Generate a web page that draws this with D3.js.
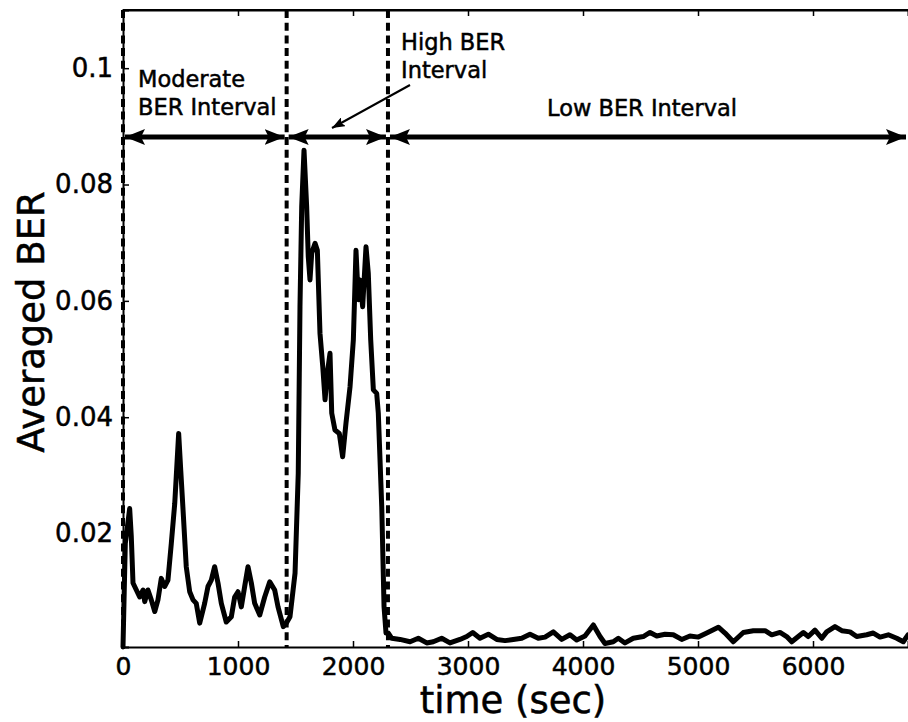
<!DOCTYPE html>
<html>
<head>
<meta charset="utf-8">
<script src="https://cdn.jsdelivr.net/npm/d3@7"></script>
<style>
  html, body { margin: 0; padding: 0; background: #fff; }
  svg { display: block; }
  text { font-family: "DejaVu Sans", Arial, sans-serif; fill: #000; stroke: #000; stroke-width: 0.5px; }
</style>
</head>
<body>
<svg id="chart" width="908" height="722"></svg>
<script>
// ---- data ----
const timeSec = [0,20,58,72,87,116,145,174,189,217,246,276,304,333,363,391,420,450,463,484,502,522,550,580,609,637,667,710,739,768,797,826,855,898,942,971,1000,1029,1058,1087,1116,1145,1189,1232,1276,1319,1348,1394,1420,1452,1496,1524,1539,1554,1574,1597,1611,1626,1641,1670,1690,1713,1737,1757,1777,1800,1815,1843,1881,1910,1939,1974,2003,2026,2046,2061,2084,2113,2133,2154,2177,2206,2220,2250,2270,2287,2307,2337,2409,2496,2568,2641,2698,2771,2843,2930,2989,3041,3104,3177,3250,3322,3394,3467,3539,3611,3670,3742,3815,3887,3945,4017,4090,4148,4191,4263,4307,4365,4437,4524,4583,4641,4713,4785,4858,4930,5003,5076,5177,5235,5307,5394,5481,5583,5641,5713,5771,5815,5872,5916,5959,6017,6076,6119,6191,6250,6322,6380,6467,6524,6583,6655,6728,6785,6826];
const avgBER = [0.0005,0.0183,0.0243,0.0195,0.0115,0.0103,0.0091,0.0103,0.0083,0.0103,0.0086,0.0066,0.0086,0.0123,0.0109,0.0120,0.0183,0.0252,0.0298,0.0372,0.0309,0.0241,0.0143,0.0100,0.0086,0.0080,0.0046,0.0080,0.0109,0.0120,0.0143,0.0115,0.0080,0.0048,0.0057,0.0091,0.0100,0.0074,0.0109,0.0143,0.0115,0.0080,0.0060,0.0091,0.0117,0.0103,0.0074,0.0040,0.0046,0.0057,0.0132,0.0304,0.0590,0.0762,0.0859,0.0762,0.0676,0.0636,0.0682,0.0699,0.0687,0.0544,0.0487,0.0430,0.0476,0.0510,0.0407,0.0378,0.0372,0.0332,0.0390,0.0452,0.0533,0.0687,0.0602,0.0636,0.0590,0.0693,0.0647,0.0533,0.0447,0.0441,0.0407,0.0246,0.0074,0.0029,0.0029,0.0020,0.0018,0.0014,0.0020,0.0012,0.0014,0.0020,0.0012,0.0018,0.0023,0.0030,0.0020,0.0027,0.0018,0.0016,0.0018,0.0020,0.0027,0.0020,0.0022,0.0031,0.0018,0.0026,0.0017,0.0024,0.0043,0.0023,0.0011,0.0014,0.0020,0.0012,0.0020,0.0023,0.0030,0.0024,0.0027,0.0026,0.0018,0.0024,0.0022,0.0029,0.0039,0.0029,0.0014,0.0030,0.0033,0.0033,0.0026,0.0030,0.0023,0.0014,0.0023,0.0030,0.0023,0.0034,0.0020,0.0031,0.0040,0.0033,0.0031,0.0023,0.0026,0.0029,0.0022,0.0026,0.0020,0.0014,0.0026];
const xTicks = [0,1000,2000,3000,4000,5000,6000];
const yTicks = [0.02,0.04,0.06,0.08,0.1];
const yTickLabels = ["0.02","0.04","0.06","0.08","0.1"];
const boundaries = [0,1423,2304];           // interval boundaries (sec)
const intervals = [
  {name:"Moderate", from:0, to:1423},
  {name:"High", from:1423, to:2304},
  {name:"Low", from:2304, to:6826}
];
const xDomain = [0, 6826];
const yDomain = [0.0005, 0.11];

// ---- layout ----
const svg = d3.select("#chart");
const L = 123, R = 908, T = 10, B = 647;
const x = d3.scaleLinear().domain(xDomain).range([L, R]);
const y = d3.scaleLinear().domain(yDomain).range([B, T]);

// top frame line
svg.append("line").attr("x1",L).attr("x2",R+2).attr("y1",T).attr("y2",T)
  .attr("stroke","#000").attr("stroke-width",2);

// axes with inward ticks
const xAxis = svg.append("g").attr("transform",`translate(0,${B})`)
  .call(d3.axisBottom(x).tickValues(xTicks).tickSize(-6).tickPadding(10).tickFormat(d3.format("d")));
const xAxisTop = svg.append("g").attr("transform",`translate(0,${T})`)
  .call(d3.axisTop(x).tickValues(xTicks).tickSize(-6).tickFormat(""));
const yAxis = svg.append("g").attr("transform",`translate(${L},0)`)
  .call(d3.axisLeft(y).tickValues(yTicks).tickSize(-6).tickPadding(10).tickFormat((d,i)=>yTickLabels[i]));
[xAxis, xAxisTop, yAxis].forEach(g=>{
  g.select(".domain").attr("stroke","#000").attr("stroke-width",2);
  g.selectAll(".tick line").attr("stroke","#000").attr("stroke-width",1.5);
  g.selectAll(".tick text").style("font-family","'DejaVu Sans', Arial, sans-serif")
    .attr("fill","#000").attr("stroke","#000").attr("stroke-width",0.5);
});
yAxis.selectAll(".tick text").style("font-size","26px");
xAxis.selectAll(".tick text").style("font-size","25px").attr("dy","0.71em");

// data line
const line = d3.line().x((d,i)=>x(timeSec[i])).y(d=>y(d)).curve(d3.curveLinear);
svg.append("path").datum(avgBER).attr("d",line)
  .attr("fill","none").attr("stroke","#000").attr("stroke-width",5)
  .attr("stroke-linejoin","round").attr("stroke-linecap","round");

// dashed interval boundaries
svg.selectAll("line.bound").data(boundaries).enter().append("line")
  .attr("class","bound")
  .attr("x1",d=>x(d)).attr("x2",d=>x(d)).attr("y1",T).attr("y2",B)
  .attr("stroke","#000").attr("stroke-width",4).attr("stroke-dasharray","8,4.7");

// arrow markers
const defs = svg.append("defs");
function headMarker(id, orient, w, h) {
  defs.append("marker").attr("id",id).attr("viewBox",`0 0 ${w} ${h}`)
    .attr("refX",w).attr("refY",h/2).attr("markerWidth",w).attr("markerHeight",h)
    .attr("markerUnits","userSpaceOnUse").attr("orient",orient)
    .append("path").attr("d",`M0,0 L${w},${h/2} L0,${h} L${w*0.2},${h/2} Z`).attr("fill","#000");
}
headMarker("headEnd","auto",20,16);
headMarker("headStart","auto-start-reverse",20,16);
headMarker("thinHead","auto",13,10);

// double-headed interval arrows
const arrowY = 137;
svg.selectAll("line.intv").data(intervals).enter().append("line")
  .attr("class","intv")
  .attr("x1",d=>x(d.from)+2).attr("x2",d=>x(d.to)-2)
  .attr("y1",arrowY).attr("y2",arrowY)
  .attr("stroke","#000").attr("stroke-width",5)
  .attr("marker-start","url(#headStart)").attr("marker-end","url(#headEnd)");

// annotation text
const ann = svg.append("g").style("font-size","22.5px");
ann.append("text").attr("x",138).attr("y",87).text("Moderate");
ann.append("text").attr("x",138).attr("y",115).text("BER Interval");
ann.append("text").attr("x",401).attr("y",50).text("High BER");
ann.append("text").attr("x",401).attr("y",78).text("Interval");
ann.append("text").attr("x",547).attr("y",116).text("Low BER Interval");

// pointer arrow for High BER Interval
svg.append("line").attr("x1",410).attr("y1",85).attr("x2",332).attr("y2",128)
  .attr("stroke","#000").attr("stroke-width",2).attr("marker-end","url(#thinHead)");

// axis titles
svg.append("text").attr("x",513).attr("y",713).attr("text-anchor","middle")
  .style("font-size","37px").text("time (sec)");
svg.append("text").attr("transform","translate(44,322) rotate(-90)")
  .attr("text-anchor","middle").style("font-size","37px").text("Averaged BER");
</script>
</body>
</html>
